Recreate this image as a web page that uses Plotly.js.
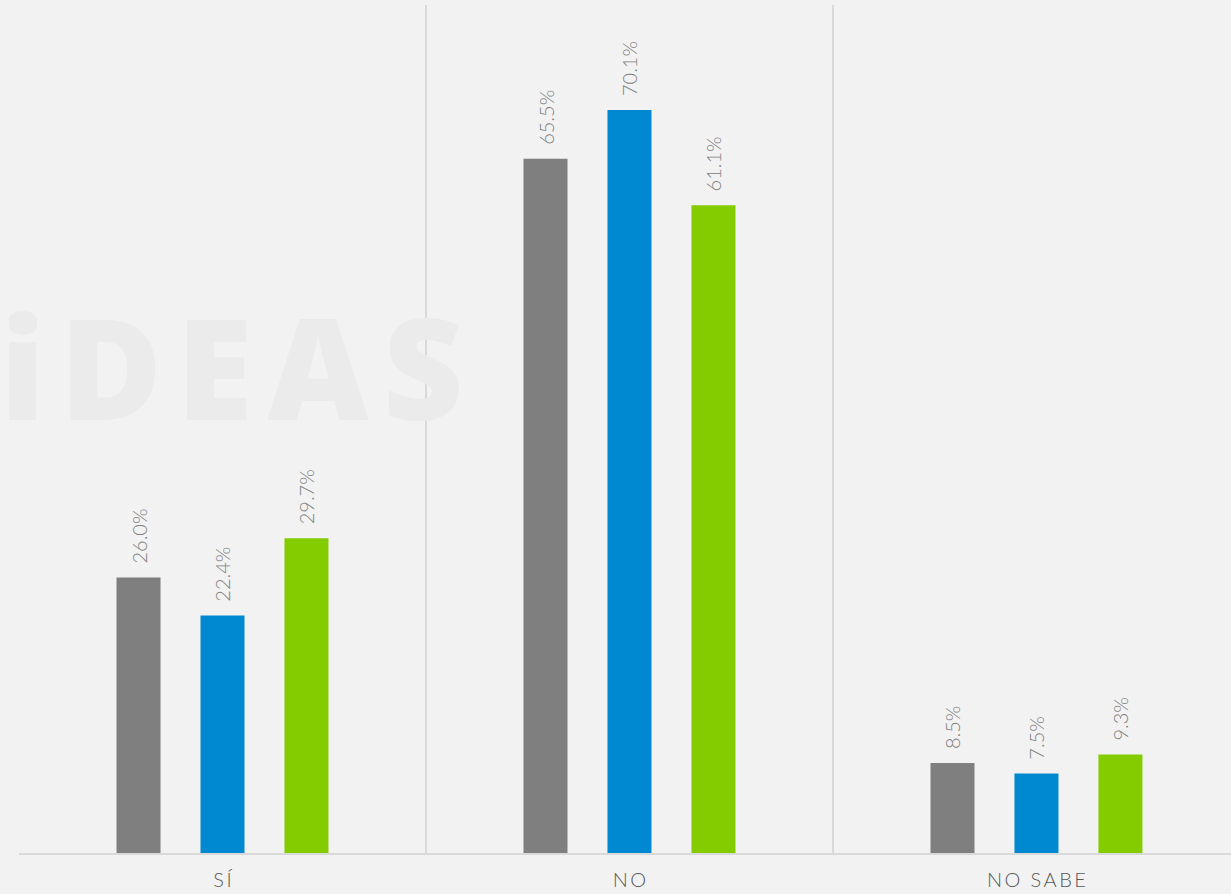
<!DOCTYPE html>
<html>
<head>
<meta charset="utf-8">
<script src="https://cdn.plot.ly/plotly-3.0.1.min.js"></script>
<style>
  html, body { margin: 0; padding: 0; background: #f2f2f2; }
  #chart { width: 1231px; height: 894px; }
</style>
</head>
<body>
<div id="chart"></div>
<script>
const categories = ['SÍ', 'NO', 'NO SABE'];
const tickLabels = ['S\u2009Í', 'N\u2009O', 'N\u2009O\u2002S\u2009A\u2009B\u2009E'];
const seriesNames = ['Serie 1', 'Serie 2', 'Serie 3'];
const serie1 = [26.0, 65.5, 8.5];
const serie2 = [22.4, 70.1, 7.5];
const serie3 = [29.7, 61.1, 9.3];
const seriesColors = ['#7f7f7f', '#0088d1', '#84cc00'];

const allSeries = [serie1, serie2, serie3];
const labelFont = { family: 'Lato, "Open Sans", sans-serif', size: 20, color: '#808080', weight: 300 };

const traces = allSeries.map((vals, i) => ({
  type: 'bar',
  name: seriesNames[i],
  x: categories,
  y: vals,
  marker: { color: seriesColors[i] },
  text: vals.map(v => '\u00a0\u00a0' + v.toFixed(1) + '%'),
  textposition: 'outside',
  textangle: -90,
  constraintext: 'none',
  textfont: labelFont,
  cliponaxis: false,
  hoverinfo: 'x+y'
}));

const layout = {
  width: 1231,
  height: 894,
  paper_bgcolor: '#f2f2f2',
  plot_bgcolor: '#f2f2f2',
  margin: { l: 19, r: 0, t: 5, b: 41, autoexpand: false },
  barmode: 'group',
  bargap: 0.381,
  bargroupgap: 0.476,
  showlegend: false,
  xaxis: {
    type: 'category',
    range: [-0.5, 2.478],
    tickmode: 'array',
    tickvals: categories,
    ticktext: tickLabels,
    tickson: 'boundaries',
    ticks: '',
    ticklabelstandoff: 8,
    showgrid: true,
    gridcolor: '#d9d9d9',
    gridwidth: 2,
    showline: true,
    linecolor: '#d9d9d9',
    linewidth: 2,
    zeroline: false,
    tickfont: { family: 'Lato, "Open Sans", sans-serif', size: 20, color: '#595959', weight: 300 },
    automargin: false
  },
  yaxis: {
    range: [0, 80],
    visible: false,
    showgrid: false,
    zeroline: false
  },
  annotations: [{
    xref: 'paper', yref: 'paper',
    x: -0.0156, y: 0.575,
    xanchor: 'left', yanchor: 'middle',
    borderpad: 0, borderwidth: 0,
    text: 'i\u200aD\u200aE\u200aA\u200aS',
    showarrow: false,
    font: { family: '"Open Sans", sans-serif', size: 140, color: '#ebebeb', weight: 800 }
  }]
};

Plotly.newPlot('chart', traces, layout, { displayModeBar: false, staticPlot: true });
</script>
</body>
</html>
